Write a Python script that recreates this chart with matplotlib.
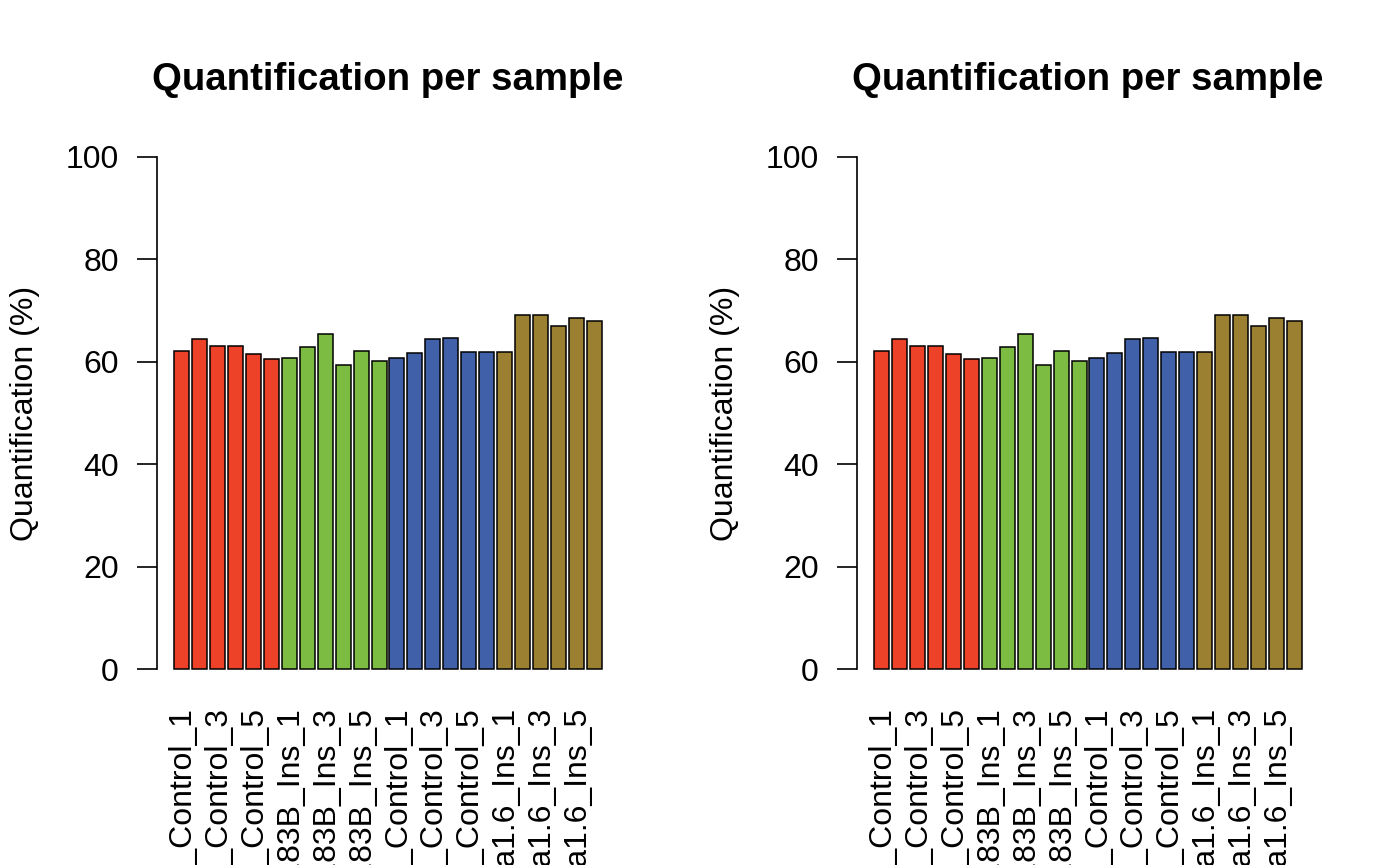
import matplotlib
matplotlib.use("Agg")
import matplotlib.pyplot as plt
import numpy as np

plt.rcParams['font.family'] = ['Liberation Sans', 'DejaVu Sans']

groups = ["Mir_Control", "Mir183B_Ins", "Kcna_Control", "Kcna1.6_Ins"]
group_colors = ["#EE4228", "#7DBC42", "#4061AA", "#9A8030"]
replicates = [1, 2, 3, 4, 5, 6]
values = [62.1, 64.4, 63.0, 63.0, 61.5, 60.5,
          60.8, 62.8, 65.4, 59.4, 62.1, 60.2,
          60.7, 61.8, 64.5, 64.7, 61.9, 62.0,
          61.9, 69.2, 69.1, 66.9, 68.6, 68.0]
samples = [f"{g}_{r}" for g in groups for r in replicates]
colors = [c for c in group_colors for _ in replicates]
yticks = [0, 20, 40, 60, 80, 100]

W, H = 1400, 865
fig = plt.figure(figsize=(W / 100, H / 100), dpi=100)
FS = 23

n = len(values)
pos = 0.7 + 1.2 * np.arange(n)  # R barplot centres (width 1, space 0.2)
xl, xr = 0.2, 1.2 * n - 0.2 + 0.2
ext = 0.04 * (xr - xl)

for p in range(2):
    off = 700 * p
    x0 = (157 + off) / W
    ax = fig.add_axes([x0, 1 - 689.5 / H, 462 / W, (689.5 - 136.5) / H])
    ax.bar(pos, values, width=1.0, color=colors, edgecolor='black', linewidth=1.1)
    ax.set_xlim(xl - ext, xr + ext)
    ax.set_ylim(-4, 104)
    for s in ['top', 'right', 'bottom']:
        ax.spines[s].set_visible(False)
    ax.spines['left'].set_bounds(0, 100)
    ax.spines['left'].set_linewidth(1.2)
    ax.set_yticks(yticks)
    ax.set_yticklabels([str(t) for t in yticks], fontsize=FS)
    ax.tick_params(axis='y', length=14.4, width=1.2, pad=13, direction='out')
    ax.set_xticks(pos[::2])
    ax.set_xticklabels(samples[::2], rotation=90, fontsize=FS, va='top', ha='center')
    ax.tick_params(axis='x', length=0, pad=12)
    fig.text((388 + off) / W, 1 - 80 / H, "Quantification per sample",
             fontsize=FS * 1.2, fontweight='bold', ha='center', va='center')
    fig.text((25 + off) / W, 1 - 413.5 / H, "Quantification (%)",
             fontsize=FS, rotation=90, ha='center', va='center')

fig.savefig("out.png", dpi=100)
